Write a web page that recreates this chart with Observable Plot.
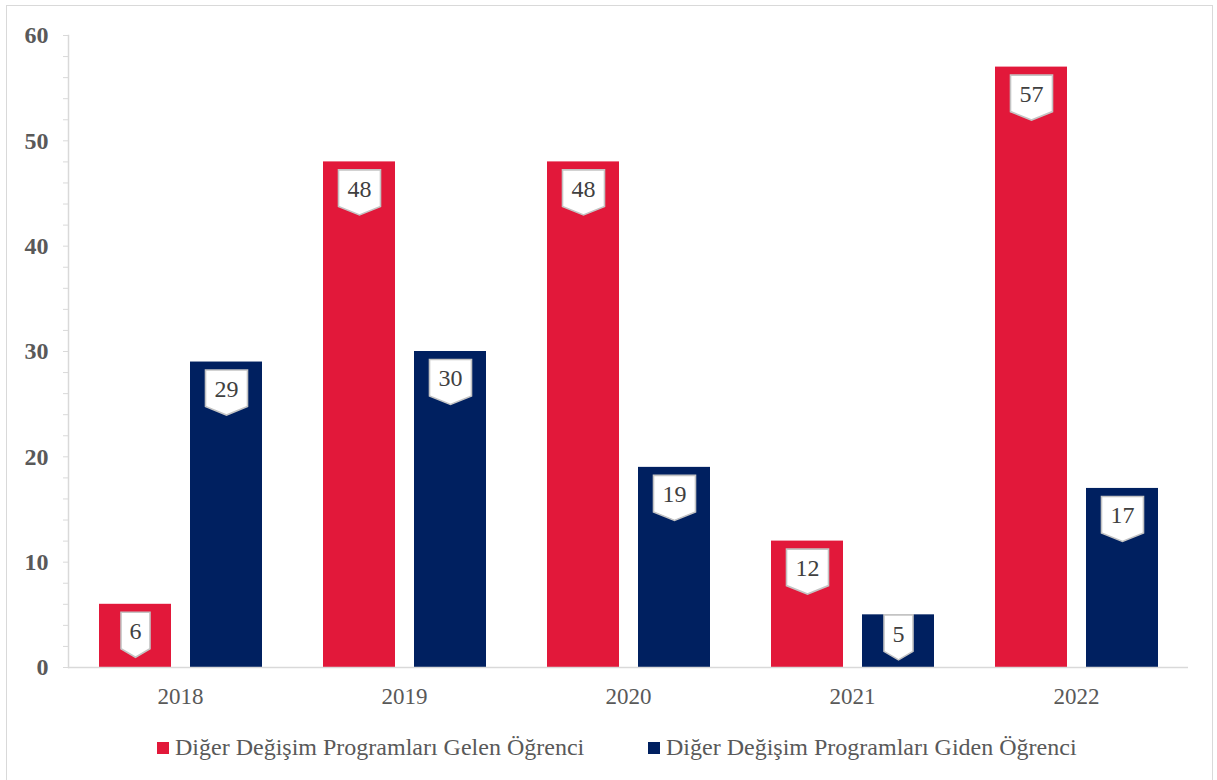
<!DOCTYPE html>
<html><head><meta charset="utf-8">
<script src="https://cdn.jsdelivr.net/npm/d3@7"></script>
<script src="https://cdn.jsdelivr.net/npm/@observablehq/plot@0.6"></script>
<style>
html,body{margin:0;padding:0;background:#fff;font-family:"Liberation Serif","Times New Roman",serif;overflow:hidden;}
#frame{position:absolute;left:6px;top:5px;width:1207px;height:820px;border:1.5px solid #d9d9d9;box-sizing:border-box;}
#chart{position:absolute;left:0;top:0;}
.leg{position:absolute;top:732px;font-size:24px;color:#595959;white-space:nowrap;line-height:30px;height:30px;}
.leg span.sw{display:inline-block;width:12px;height:12px;margin-right:6px;vertical-align:1px;}
</style></head>
<body>
<div id="frame"></div>
<div id="chart"></div>
<div class="leg" id="leg1" style="left:157px"></div>
<div class="leg" id="leg2" style="left:648px"></div>
<script>
const years = ["2018", "2019", "2020", "2021", "2022"];
const seriesNames = ["Diğer Değişim Programları Gelen Öğrenci", "Diğer Değişim Programları Giden Öğrenci"];
const gelen = [6, 48, 48, 12, 57];
const giden = [29, 30, 19, 5, 17];
const colors = ["#E2183A", "#002060"];
const yTicks = [0, 10, 20, 30, 40, 50, 60];
const yMinorTicks = d3.range(0, 61, 2);

const rows = years.flatMap((y, i) => [
  {year: y, series: seriesNames[0], value: gelen[i]},
  {year: y, series: seriesNames[1], value: giden[i]}
]);

function callout(w) {
  return {draw(ctx) {
    const h = w / 2;
    ctx.moveTo(-h, 0); ctx.lineTo(h, 0); ctx.lineTo(h, 36.5);
    ctx.lineTo(0, 45); ctx.lineTo(-h, 36.5); ctx.closePath();
  }};
}
const boxStyle = {fx: "year", x: "series", y: "value", r: 5, fill: "white", stroke: "#c4c4c4", strokeWidth: 1.6};
const tall = rows.filter(d => d.value >= 6);
const short = rows.filter(d => d.value < 6);

const plot = Plot.plot({
  width: 1217,
  height: 720,
  marginLeft: 68,
  marginRight: 29,
  marginTop: 35,
  marginBottom: 53,
  style: {fontFamily: "Liberation Serif, Times New Roman, serif", fontSize: "20px", background: "transparent"},
  fx: {domain: years, padding: 0, label: null},
  x: {domain: seriesNames, axis: null, paddingInner: 0.212, paddingOuter: 0.3235},
  y: {domain: [0, 60], label: null},
  color: {domain: seriesNames, range: colors},
  marks: [
    Plot.axisY(yMinorTicks, {tickSize: 5, stroke: "#d9d9d9", tickFormat: () => "", label: null}),
    Plot.axisY(yTicks, {tickSize: 0, tickPadding: 20, fontWeight: "bold", fontSize: 24, fill: "#595959", label: null}),
    Plot.frame({anchor: "left", stroke: "#d9d9d9", strokeWidth: 1.5, facetAnchor: "left"}),
    Plot.barY(rows, {fx: "year", x: "series", y: "value", fill: "series"}),
    Plot.ruleY([0], {stroke: "#d9d9d9", strokeWidth: 1.5}),
    Plot.dot(tall.filter(d => d.value < 10), {...boxStyle, dy: 8, symbol: callout(29)}),
    Plot.dot(tall.filter(d => d.value >= 10), {...boxStyle, dy: 8, symbol: callout(42)}),
    Plot.dot(short, {...boxStyle, dy: 0, symbol: callout(29)}),
    Plot.text(tall, {fx: "year", x: "series", y: "value", text: d => String(d.value), dy: 27, fontSize: 24, fill: "#404040"}),
    Plot.text(short, {fx: "year", x: "series", y: "value", text: d => String(d.value), dy: 19, fontSize: 24, fill: "#404040"}),
    Plot.axisFx({anchor: "bottom", tickSize: 0, tickPadding: 20, fontSize: 23, fill: "#595959", label: null})
  ]
});
document.getElementById("chart").appendChild(plot);

const legs = [document.getElementById("leg1"), document.getElementById("leg2")];
legs.forEach((el, i) => {
  const sw = document.createElement("span");
  sw.className = "sw"; sw.style.background = colors[i];
  el.appendChild(sw);
  el.appendChild(document.createTextNode(seriesNames[i]));
});
</script>
</body></html>
